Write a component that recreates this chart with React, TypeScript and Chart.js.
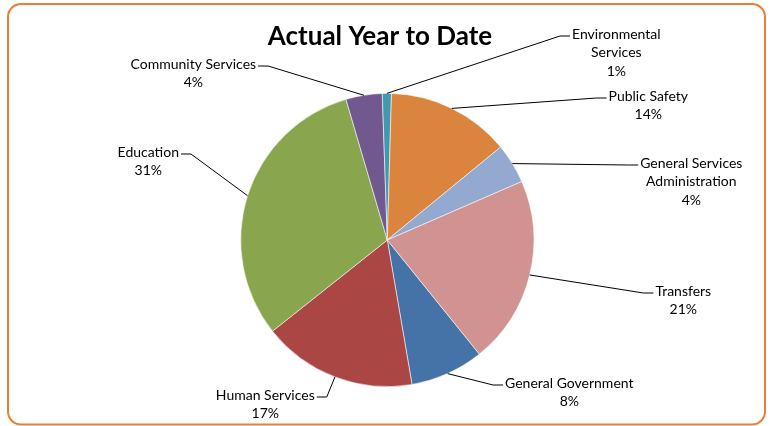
import React, { useEffect, useRef } from "react";
import { Chart, registerables } from "chart.js";

Chart.register(...registerables);

const chartTitle = "Actual Year to Date";
const categories = [
  "General Government",
  "Human Services",
  "Education",
  "Community Services",
  "Environmental Services",
  "Public Safety",
  "General Services Administration",
  "Transfers",
];
const values = [8.1, 17.0, 31.1, 4.0, 1.0, 13.6, 4.4, 20.7];
const labelLines = [
  ["General Government"],
  ["Human Services"],
  ["Education"],
  ["Community Services"],
  ["Environmental", "Services"],
  ["Public Safety"],
  ["General Services", "Administration"],
  ["Transfers"],
];
const sliceColors = [
  "#4573A7",
  "#AA4644",
  "#89A54E",
  "#71588F",
  "#4198AF",
  "#DB843D",
  "#93A9CF",
  "#D19392",
];

// label placement (centre x of text block, centre y of first line) relative to pie centre
const labelLayout = [
  [182, 143],
  [-122, 155],
  [-239, -88],
  [-194, -176],
  [229, -206],
  [261, -144],
  [304, -77],
  [296, 51],
];
const LABEL_FONT = "14px Lato";
const LINE_H = 18.8;

const decorPlugin = {
  id: "decor",
  beforeDraw(chart: any) {
    const ctx = chart.ctx as CanvasRenderingContext2D;
    ctx.save();
    ctx.fillStyle = "#fff";
    ctx.fillRect(0, 0, chart.width, chart.height);
    ctx.strokeStyle = "#ED7D31";
    ctx.lineWidth = 2;
    ctx.beginPath();
    (ctx as any).roundRect(8, 4, 757, 420.5, 13);
    ctx.stroke();
    ctx.restore();
  },
  afterDraw(chart: any) {
    const ctx = chart.ctx as CanvasRenderingContext2D;
    const meta = chart.getDatasetMeta(0);
    const total = values.reduce((a, b) => a + b, 0);
    ctx.save();
    // title
    ctx.fillStyle = "#000";
    ctx.font = "bold 26px Lato";
    ctx.textAlign = "center";
    ctx.textBaseline = "middle";
    ctx.fillText(chartTitle, 380, 37);

    ctx.font = LABEL_FONT;
    ctx.strokeStyle = "#000";
    ctx.lineWidth = 1;
    meta.data.forEach((arc: any, i: number) => {
      const p = arc.getProps(["x", "y", "startAngle", "endAngle", "outerRadius"], true);
      const mid = (p.startAngle + p.endAngle) / 2;
      const ax = p.x + Math.cos(mid) * p.outerRadius;
      const ay = p.y + Math.sin(mid) * p.outerRadius;
      const cx = p.x + labelLayout[i][0];
      const cy = p.y + labelLayout[i][1];
      const lines = [...labelLines[i], Math.round((values[i] / total) * 100) + "%"];
      const w = ctx.measureText(lines[0]).width;
      const right = cx > p.x;
      const edge = right ? cx - w / 2 : cx + w / 2;
      const dir = right ? 1 : -1;
      const ly = cy + 2;
      ctx.beginPath();
      ctx.moveTo(ax, ay);
      ctx.lineTo(edge - dir * 12, ly);
      ctx.lineTo(edge - dir * 2, ly);
      ctx.stroke();
      ctx.fillStyle = "#000";
      ctx.textAlign = "center";
      ctx.textBaseline = "middle";
      lines.forEach((t, k) => ctx.fillText(t, cx, cy + k * LINE_H));
    });
    ctx.restore();
  },
};

export default function App() {
  const ref = useRef<HTMLCanvasElement | null>(null);
  useEffect(() => {
    if (!ref.current) return;
    const chart = new Chart(ref.current, {
      type: "pie",
      data: {
        labels: categories,
        datasets: [
          {
            data: values,
            backgroundColor: sliceColors,
            borderColor: "rgba(255,255,255,0.7)",
            borderWidth: 0.8,
          },
        ],
      },
      options: {
        responsive: false,
        animation: false,
        rotation: 141.1,
        layout: { padding: { left: 240.3, right: 236.7, top: 93, bottom: 39 } },
        plugins: {
          legend: { display: false },
          tooltip: { enabled: false },
          title: { display: false },
        },
      },
      plugins: [decorPlugin],
    });
    return () => chart.destroy();
  }, []);
  return (
    <div style={{ position: "absolute", left: 0, top: 0, width: 771, height: 426 }}>
      <canvas ref={ref} width={771} height={426} style={{ display: "block" }} />
    </div>
  );
}
